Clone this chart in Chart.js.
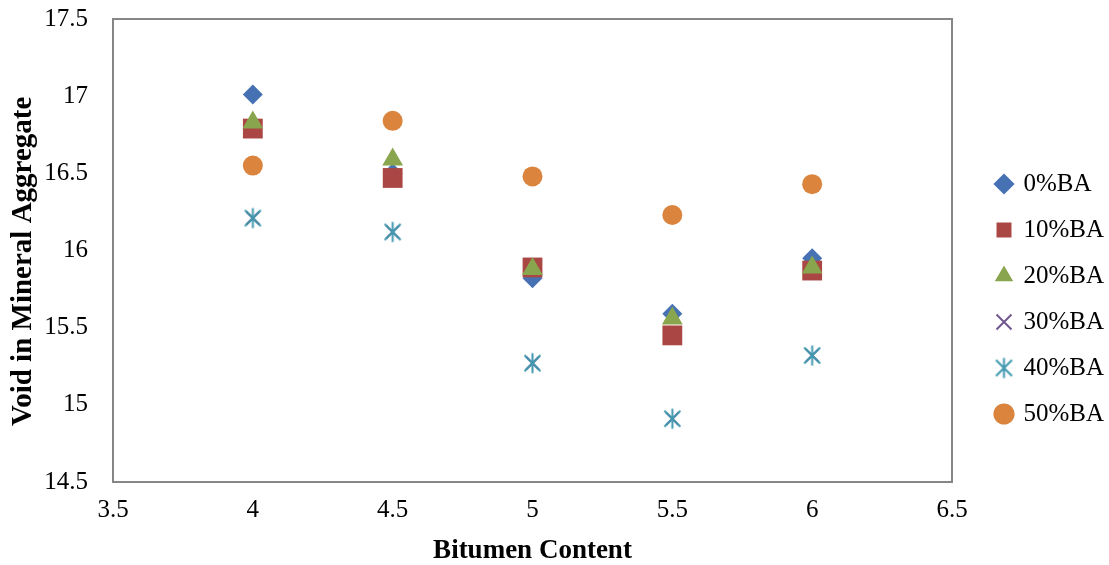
<!DOCTYPE html>
<html>
<head>
<meta charset="utf-8">
<script src="https://cdn.jsdelivr.net/npm/chart.js@4"></script>
<style>
  html, body { margin: 0; padding: 0; background: #fff; }
  #wrap { width: 1109px; height: 565px; }
</style>
</head>
<body>
<div id="wrap"><canvas id="vmaChart" width="1109" height="565"></canvas></div>
<script>
// bitumen content (x) and VMA readings per blend
var bitumen = [4, 4.5, 5, 5.5, 6];
var ba0 = [17.01, 16.50, 15.82, 15.59, 15.95];
var ba10 = [16.79, 16.47, 15.89, 15.45, 15.87];
var ba20 = [16.83, 16.59, 15.88, 15.56, 15.89];
var ba30 = [16.21, 16.12, 15.27, 14.91, 15.32];
var ba40 = [16.21, 16.12, 15.27, 14.91, 15.32];
var ba50 = [16.55, 16.84, 16.48, 16.23, 16.43];
var seriesNames = ["0%BA", "10%BA", "20%BA", "30%BA", "40%BA", "50%BA"];
var xTicks = [3.5, 4, 4.5, 5, 5.5, 6, 6.5];
var yTicks = [14.5, 15, 15.5, 16, 16.5, 17, 17.5];

var serif = "'Liberation Serif', 'Times New Roman', serif";

function toPoints(vals) {
  var pts = [];
  for (let i = 0; i < bitumen.length; i++) {
    pts.push({ x: bitumen[i], y: vals[i] });
  }
  return pts;
}

// excel style star: an X with a vertical bar
function makeStar(color, size) {
  var c = document.createElement("canvas");
  c.width = size;
  c.height = size;
  var g = c.getContext("2d");
  var m = size / 2;
  var r = size / 2 - 1.5;
  var d = r * 0.8;
  g.strokeStyle = color;
  g.lineWidth = 2;
  g.beginPath();
  g.moveTo(m - d, m - d); g.lineTo(m + d, m + d);
  g.moveTo(m + d, m - d); g.lineTo(m - d, m + d);
  g.moveTo(m, m - r); g.lineTo(m, m + r);
  g.stroke();
  return c;
}

var colors = ["#4672B4", "#AA4643", "#89A54E", "#71588F", "#4198AF", "#DB843D"];
var styles = ["rectRot", "rect", "triangle", "crossRot", makeStar(colors[4], 23), "circle"];
var radii = [10, 14, 12, 9, 12, 10];
var allVals = [ba0, ba10, ba20, ba30, ba40, ba50];

var datasets = [];
for (let i = 0; i < allVals.length; i++) {
  datasets.push({
    label: seriesNames[i],
    data: toPoints(allVals[i]),
    pointStyle: styles[i],
    pointRadius: radii[i],
    pointHoverRadius: radii[i],
    backgroundColor: colors[i],
    borderColor: colors[i],
    borderWidth: i == 3 ? 2 : 0,
    order: allVals.length - i,
    showLine: false
  });
}

var framePlugin = {
  id: "frame",
  beforeDatasetsDraw: function (chart) {
    var a = chart.chartArea;
    var ctx = chart.ctx;
    ctx.save();
    ctx.strokeStyle = "#868686";
    ctx.lineWidth = 2;
    ctx.strokeRect(a.left, a.top, a.right - a.left, a.bottom - a.top);
    ctx.restore();
  },
  afterLayout: function (chart) {
    // nudge legend block to where excel put it
    var lg = chart.legend;
    var dx = 976 - lg.left;
    lg.left += dx;
    lg.right += dx;
    lg.top += 7;
    lg.bottom += 7;
  }
};

function plainTick(v) { return v; }

let ctx0 = document.getElementById("vmaChart");
var myChart = new Chart(ctx0, {
  type: "scatter",
  data: { datasets: datasets },
  plugins: [framePlugin],
  options: {
    responsive: false,
    animation: false,
    layout: { padding: { top: 19, left: 0, bottom: 0, right: 19 } },
    plugins: {
      tooltip: { enabled: false },
      legend: {
        position: "right",
        maxWidth: 138,
        labels: {
          usePointStyle: true,
          boxWidth: 14,
          boxHeight: 15,
          padding: 21,
          color: "#000",
          font: { family: serif, size: 25 },
          sort: function (a, b) { return a.datasetIndex - b.datasetIndex; }
        }
      }
    },
    scales: {
      x: {
        type: "linear",
        min: 3.5,
        max: 6.5,
        afterFit: function (s) { s.height = 83; s.paddingLeft = 0; s.paddingRight = 0; },
        afterBuildTicks: function (s) { s.ticks = xTicks.map(function (v) { return { value: v }; }); },
        grid: { display: false, drawTicks: false },
        border: { display: false },
        ticks: { color: "#000", padding: 13, maxRotation: 0, callback: plainTick, font: { family: serif, size: 25 } },
        title: { display: true, text: "Bitumen Content", color: "#000", padding: { top: 0, bottom: -2 }, font: { family: serif, size: 27, weight: "bold" } }
      },
      y: {
        type: "linear",
        min: 14.5,
        max: 17.5,
        afterFit: function (s) { s.width = 113; s.paddingTop = 0; s.paddingBottom = 0; },
        afterBuildTicks: function (s) { s.ticks = yTicks.map(function (v) { return { value: v }; }); },
        grid: { display: false, drawTicks: false },
        border: { display: false },
        ticks: { color: "#000", padding: 25, callback: plainTick, font: { family: serif, size: 25 } },
        title: { display: true, text: "Void in Mineral Aggregate   ", color: "#000", padding: { top: 6, bottom: 0 }, font: { family: serif, size: 29, weight: "bold" } }
      }
    }
  }
});
</script>
</body>
</html>
